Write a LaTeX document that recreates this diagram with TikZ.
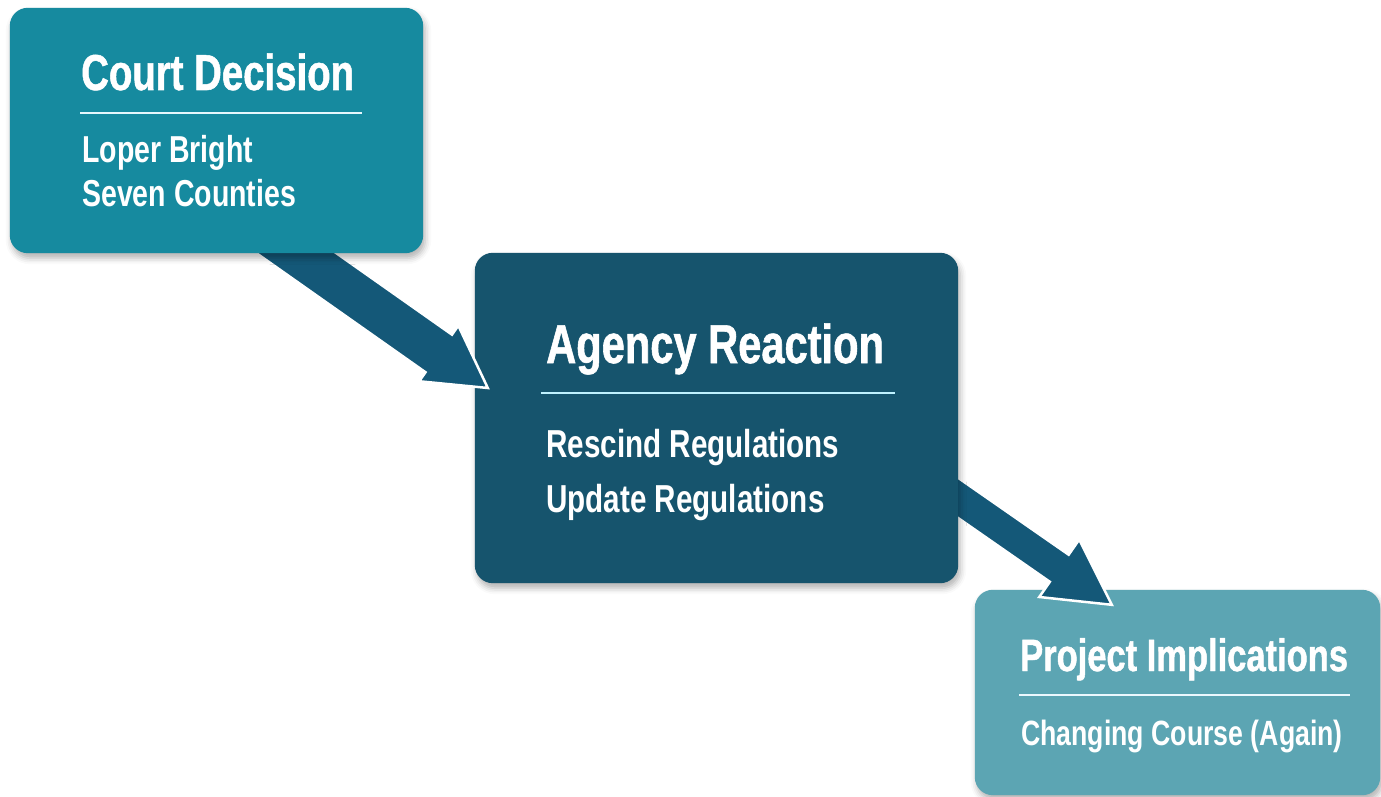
\documentclass[tikz,border=0pt]{standalone}
\usepackage{fontspec}
\newfontfamily\boxfont[FakeStretch=0.76]{Liberation Sans}
\newfontfamily\headfont[FakeStretch=0.76, FakeBold=1]{Liberation Sans}
\usepackage{xcolor}
\usetikzlibrary{calc}
\usetikzlibrary{shadows.blur}
\definecolor{courtteal}{HTML}{168A9F}
\definecolor{agencyblue}{HTML}{16546D}
\definecolor{impliteal}{HTML}{5CA5B3}
\definecolor{arrowblue}{HTML}{145878}
\tikzset{
  stage frame/.style = {inner sep=0pt, draw=none},
  stage fill/.style = {fill=#1, rounded corners=18pt,
    blur shadow={shadow xshift=2pt, shadow yshift=-5pt, shadow opacity=30, shadow blur radius=6pt}}
}
\tikzset{
  title text/.style = {anchor=base west, inner sep=0pt, text=white,
    font=\headfont\bfseries\fontsize{#1}{#1}\selectfont},
  item text/.style = {anchor=base west, inner sep=0pt, text=white,
    font=\boxfont\bfseries\fontsize{#1}{#1}\selectfont}
}
\tikzset{
  block arrow/.style = {fill=arrowblue, draw=white, line width=2.5pt}
}
% #1 start, #2 tip, #3 half shaft, #4 half head, #5 head length
\newcommand{\blockarrow}[5]{
  \coordinate (ba-h) at ($(#2)!#5!(#1)$);
  \filldraw[block arrow] ($(#1)!#3!90:(#2)$) -- ($(ba-h)!#3!90:(#2)$)
    -- ($(ba-h)!#4!90:(#2)$) -- (#2) -- ($(ba-h)!#4!-90:(#2)$)
    -- ($(ba-h)!#3!-90:(#2)$) -- ($(#1)!#3!-90:(#2)$) -- cycle;
}
\begin{document}
\begin{tikzpicture}[x=1pt, y=-1pt]
  \useasboundingbox (0,0) rectangle (1381,797);

  % box frames
  \node[stage frame, minimum width=413pt, minimum height=245pt] (court) at (216.5,130.5) {};
  \node[stage frame, minimum width=483pt, minimum height=330pt] (agency) at (716.5,418) {};
  \node[stage frame, minimum width=405pt, minimum height=205pt] (impl) at (1177.5,692.5) {};

  \coordinate (court out) at ($(court.south west)+(254,-23)$);
  \coordinate (agency in) at ($(agency.west)+(13,-30)$);
  \coordinate (agency out) at ($(agency.east)+(-28,60.5)$);
  \coordinate (impl in) at ($(impl.north west)+(137,15)$);

  % back to front
  \fill[stage fill=impliteal] (impl.north west) rectangle (impl.south east);
  \blockarrow{agency out}{impl in}{16.5pt}{35pt}{64pt}
  \fill[stage fill=agencyblue] (agency.north west) rectangle (agency.south east);
  \blockarrow{court out}{agency in}{23pt}{34pt}{60pt}
  \fill[stage fill=courtteal] (court.north west) rectangle (court.south east);

  % court decision
  \node[title text=50.5] (court title) at (81,90) {Court Decision};
  \draw[line width=2.5pt, color=cyan!10!white] (80,113) -- (362,113);
  \node[item text=37.5] (court a) at (82,162) {Loper Bright};
  \node[item text=37.5] (court b) at (82,206) {Seven Counties};

  % agency reaction
  \node[title text=54.8] (agency title) at (546,363) {Agency Reaction};
  \draw[line width=2.5pt, color=blue!20!cyan!25!white] (541,393) -- (895,393);
  \node[item text=39] (agency a) at (546,457) {Rescind Regulations};
  \node[item text=39] (agency b) at (546,512) {Update Regulations};

  % project implications
  \node[title text=45.4] (impl title) at (1020,671) {Project Implications};
  \draw[line width=2.5pt, color=cyan!8!white] (1019,695) -- (1350,695);
  \node[item text=35.1] (impl a) at (1021,745) {Changing Course (Again)};
\end{tikzpicture}
\end{document}
